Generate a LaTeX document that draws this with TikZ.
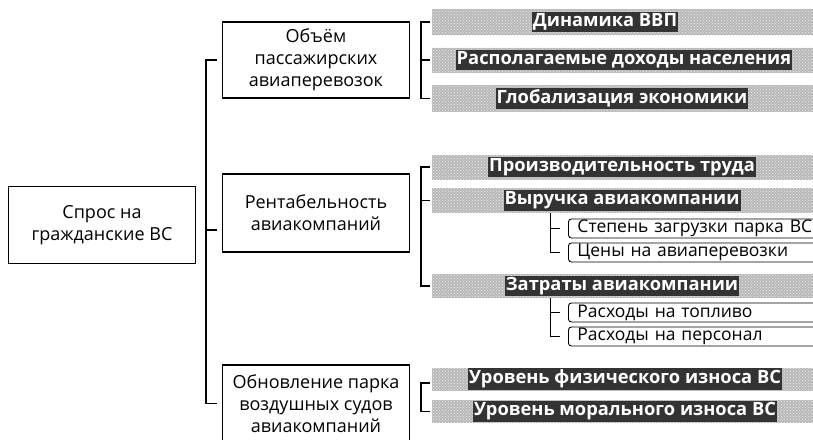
\documentclass[tikz,border=0pt]{standalone}
\usepackage{fontspec}
\setmainfont{Open Sans}
\usetikzlibrary{calc,patterns}
\begin{document}
\begin{tikzpicture}[x=1pt,y=-1pt,
  box/.style={draw,line width=1.3pt,minimum width=187pt,align=center,
    font=\fontsize{18}{22}\selectfont,inner sep=0pt},
  bar/.style={fill=gray!55,minimum width=388pt,inner sep=0pt,anchor=west,
    postaction={pattern=crosshatch dots,pattern color=gray!15}},
  bartext/.style={fill=black!80,text=white,font=\fontsize{18.3}{20}\selectfont\bfseries,
    inner xsep=1pt,inner ysep=1.5pt},
  sub/.style={draw,line width=0.9pt,rounded corners=3pt,anchor=west,minimum width=262pt,
    minimum height=19pt,text width=244pt,align=left,inner xsep=9pt,inner ysep=0pt,
    font=\fontsize{17.5}{19}\selectfont},
  link/.style={line width=1.3pt},
  slink/.style={line width=1pt}
]
\useasboundingbox (0,0) rectangle (813,439);
\clip (0,0) rectangle (813,439);
% main boxes
\node[box,minimum height=77pt] (root) at (102,225) {Спрос на\\гражданские ВС};
\node[box,minimum height=76pt] (b1) at (316,60) {Объём\\пассажирских\\авиаперевозок};
\node[box,minimum height=78pt] (b2) at (316,213) {Рентабельность\\авиакомпаний};
\node[box,minimum height=77pt] (b3) at (316,403.5) {Обновление парка\\воздушных судов\\авиакомпаний};
% main bracket
\draw[link] ([xshift=-5pt]b1.west) -- ++(-11pt,0) -- ([xshift=-16pt]b3.west) -- ([xshift=-5pt]b3.west);
\draw[link] ([xshift=-16pt,yshift=-17pt]b2.west) -- ([xshift=-5pt,yshift=-17pt]b2.west);
% bars group 1
\node[bar,minimum height=26pt] (g1) at (432,22) {};
\node[bar,minimum height=25pt] (g2) at (432,60) {};
\node[bar,minimum height=27pt] (g3) at (432,98.5) {};
\node[bartext] (g1t) at (605,22) {Динамика ВВП};
\node[bartext] (g2t) at (624,60) {Располагаемые доходы населения};
\node[bartext] (g3t) at (622,98.5) {Глобализация экономики};
\draw[link] ([xshift=-2pt]g1.west) -- ++(-9pt,0) -- ([xshift=-11pt]g3.west) -- ([xshift=-2pt]g3.west);
\draw[link] ([xshift=-11pt]g2.west) -- ([xshift=-2pt]g2.west);
% bars group 2
\node[bar,minimum height=25pt] (h1) at (432,167) {};
\node[bar,minimum height=25pt] (h2) at (432,200.5) {};
\node[bar,minimum height=24pt] (h3) at (432,286) {};
\node[bartext] (h1t) at (622,167) {Производительность труда};
\node[bartext] (h2t) at (622,200.5) {Выручка авиакомпании};
\node[bartext] (h3t) at (622,286) {Затраты авиакомпании};
\draw[link] ([xshift=-2pt]h1.west) -- ++(-9pt,0) -- ([xshift=-11pt]h3.west) -- ([xshift=-2pt]h3.west);
\draw[link] ([xshift=-11pt]h2.west) -- ([xshift=-2pt]h2.west);
% sub boxes
\node[sub] (s1) at (568,228.5) {Степень загрузки парка ВС};
\node[sub] (s2) at (568,252.5) {Цены на авиаперевозки};
\node[sub] (s3) at (568,312.5) {Расходы на топливо};
\node[sub] (s4) at (568,336.5) {Расходы на персонал};
\draw[slink] (h2.south -| 550,0) -- ([xshift=-18pt]s2.west) -- ([xshift=-8pt]s2.west);
\draw[slink] ([xshift=-18pt]s1.west) -- ([xshift=-8pt]s1.west);
\draw[slink] (h3.south -| 550,0) -- ([xshift=-18pt]s4.west) -- ([xshift=-8pt]s4.west);
\draw[slink] ([xshift=-18pt]s3.west) -- ([xshift=-8pt]s3.west);
% bars group 3
\node[bar,minimum height=23pt] (k1) at (432,379) {};
\node[bar,minimum height=23pt] (k2) at (432,411.5) {};
\node[bartext] (k1t) at (625,379) {Уровень физического износа ВС};
\node[bartext] (k2t) at (625,411.5) {Уровень морального износа ВС};
\draw[link] ([xshift=-2pt,yshift=-4pt]k1.west) -- ++(-9pt,0) -- ([xshift=-11pt]k2.west) -- ([xshift=-2pt]k2.west);
\end{tikzpicture}
\end{document}
